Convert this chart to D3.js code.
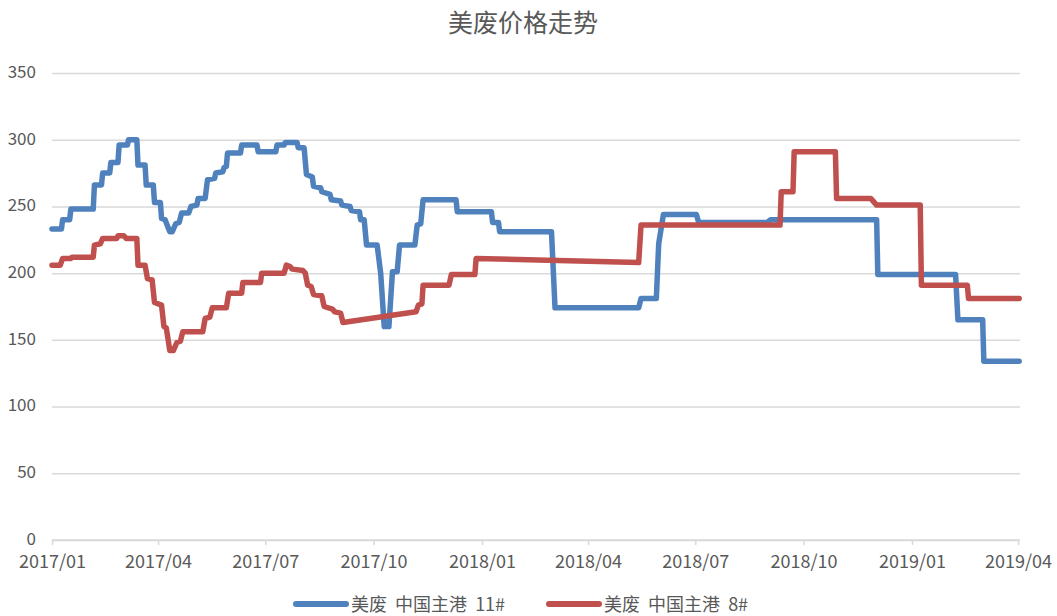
<!DOCTYPE html>
<html>
<head>
<meta charset="utf-8">
<script src="https://cdn.jsdelivr.net/npm/d3@7/dist/d3.min.js"></script>
<style>
    body { margin: 0; background: #fff; }
    text { font-family: "Liberation Sans Narrow", "Noto Sans CJK SC", sans-serif; }
</style>
</head>
<body>
<div id="chart"></div>
<script>
//标题和系列名称
let title = '美废价格走势';
let seriesNames = ['美废  中国主港  11#', '美废  中国主港  8#'];
let seriesColors = ['#4f81bd', '#c0504d'];

//11# 系列（日期, 价格）
let blueDates = ['2017-01-01', '2017-01-09', '2017-01-10', '2017-01-16', '2017-01-17', '2017-02-05', '2017-02-06',
    '2017-02-12', '2017-02-13', '2017-02-19', '2017-02-20', '2017-02-26', '2017-02-27', '2017-03-06', '2017-03-07',
    '2017-03-14', '2017-03-15', '2017-03-21', '2017-03-22', '2017-03-28', '2017-03-29', '2017-04-03', '2017-04-04',
    '2017-04-07', '2017-04-11', '2017-04-13', '2017-04-16', '2017-04-19', '2017-04-21', '2017-04-27', '2017-04-29',
    '2017-05-04', '2017-05-05', '2017-05-11', '2017-05-13', '2017-05-19', '2017-05-20', '2017-05-26', '2017-05-27',
    '2017-05-29', '2017-05-30', '2017-06-10', '2017-06-11', '2017-06-24', '2017-06-25', '2017-07-10', '2017-07-11',
    '2017-07-17', '2017-07-18', '2017-07-28', '2017-07-29', '2017-08-03', '2017-08-05', '2017-08-10', '2017-08-11',
    '2017-08-17', '2017-08-18', '2017-08-25', '2017-08-26', '2017-09-03', '2017-09-04', '2017-09-11', '2017-09-12',
    '2017-09-19', '2017-09-20', '2017-09-23', '2017-09-25', '2017-10-04', '2017-10-07', '2017-10-10', '2017-10-14',
    '2017-10-17', '2017-10-21', '2017-10-23', '2017-11-05', '2017-11-07', '2017-11-10', '2017-11-12', '2017-12-10',
    '2017-12-11', '2018-01-09', '2018-01-10', '2018-01-15', '2018-01-16', '2018-03-01', '2018-03-04', '2018-05-14',
    '2018-05-16', '2018-05-29', '2018-05-31', '2018-06-04', '2018-07-02', '2018-07-04', '2018-08-31', '2018-09-03',
    '2018-12-02', '2018-12-03', '2019-02-07', '2019-02-09', '2019-03-02', '2019-03-03', '2019-04-02'];
let blueValues = [233, 233, 240, 240, 248, 248, 266,
    266, 275, 275, 283, 283, 296, 296, 300,
    300, 281, 281, 266, 266, 253, 253, 241,
    240, 231, 231, 237, 238, 245, 245, 250,
    251, 256, 256, 270, 271, 275, 276, 279,
    280, 290, 290, 296, 296, 291, 291, 296,
    296, 298, 298, 294, 294, 274, 272, 265,
    264, 261, 259, 255, 254, 251, 250, 247,
    246, 240, 240, 221, 221, 200, 160, 160,
    201, 201, 221, 221, 236, 237, 255, 255,
    246, 246, 238, 238, 231, 231, 174, 174,
    181, 181, 222, 244, 244, 238, 238, 240,
    240, 199, 199, 165, 165, 134, 134];

//8# 系列（日期, 价格）
let redDates = ['2017-01-01', '2017-01-08', '2017-01-10', '2017-01-17', '2017-01-18', '2017-02-05', '2017-02-06',
    '2017-02-11', '2017-02-13', '2017-02-25', '2017-02-26', '2017-03-03', '2017-03-05', '2017-03-14', '2017-03-15',
    '2017-03-21', '2017-03-23', '2017-03-27', '2017-03-29', '2017-04-04', '2017-04-06', '2017-04-08', '2017-04-11',
    '2017-04-14', '2017-04-17', '2017-04-20', '2017-04-22', '2017-05-09', '2017-05-11', '2017-05-15', '2017-05-17',
    '2017-05-29', '2017-05-31', '2017-06-11', '2017-06-12', '2017-06-27', '2017-06-28', '2017-07-17', '2017-07-19',
    '2017-07-22', '2017-07-24', '2017-08-02', '2017-08-04', '2017-08-06', '2017-08-09', '2017-08-11', '2017-08-18',
    '2017-08-20', '2017-08-27', '2017-08-29', '2017-09-03', '2017-09-05', '2017-11-06', '2017-11-08', '2017-11-11',
    '2017-11-12', '2017-12-04', '2017-12-06', '2017-12-26', '2017-12-27', '2018-05-14', '2018-05-16', '2018-09-11',
    '2018-09-12', '2018-09-22', '2018-09-23', '2018-10-28', '2018-10-29', '2018-11-27', '2018-12-02', '2019-01-08',
    '2019-01-09', '2019-02-17', '2019-02-18', '2019-04-02'];
let redValues = [206, 206, 211, 211, 212, 212, 221,
    222, 226, 226, 228, 228, 226, 226, 206,
    206, 196, 195, 178, 176, 160, 159, 142,
    142, 148, 149, 156, 156, 166, 167, 174,
    174, 185, 185, 193, 193, 200, 200, 206,
    205, 203, 202, 200, 191, 190, 184, 183,
    175, 173, 171, 170, 163, 171, 176, 177,
    191, 191, 199, 199, 211, 208, 236, 236,
    261, 261, 291, 291, 256, 256, 251, 251,
    191, 191, 181, 181];

//坐标轴刻度
let xTickLabels = ['2017/01', '2017/04', '2017/07', '2017/10', '2018/01', '2018/04', '2018/07', '2018/10', '2019/01', '2019/04'];
let yTickValues = [0, 50, 100, 150, 200, 250, 300, 350];

let width = 1057, height = 616;
let parseDay = d3.timeParse('%Y-%m-%d');
let parseMonth = d3.timeParse('%Y/%m');

let svg = d3.select('#chart').append('svg')
    .attr('width', width)
    .attr('height', height);

//比例尺：时间轴 + 线性轴
let xScale = d3.scaleTime()
    .domain([parseMonth(xTickLabels[0]), parseMonth(xTickLabels[xTickLabels.length - 1])])
    .range([52, 1018]);
let yScale = d3.scaleLinear()
    .domain([0, 350])
    .range([540, 73]);

//标题
svg.append('text')
    .attr('x', 523)
    .attr('y', 32)
    .attr('text-anchor', 'middle')
    .attr('font-size', 25)
    .attr('fill', '#595959')
    .style('font-family', '"Noto Sans CJK SC", sans-serif')
    .text(title);

//网格线 + y轴
let yAxis = d3.axisLeft(yScale)
    .tickValues(yTickValues)
    .tickSize(-(1020 - 52))
    .tickPadding(16);
let yG = svg.append('g')
    .attr('transform', 'translate(52,0)')
    .call(yAxis);
yG.select('.domain').remove();
yG.selectAll('.tick line').attr('stroke', '#d9d9d9').attr('stroke-width', 1.5);
yG.selectAll('.tick text')
    .attr('fill', '#595959')
    .attr('font-size', 17)
    .attr('dy', '0.26em');

//x轴
let xAxis = d3.axisBottom(xScale)
    .tickValues(xTickLabels.map(parseMonth))
    .tickFormat(d3.timeFormat('%Y/%m'))
    .tickSize(5)
    .tickSizeOuter(0)
    .tickPadding(14);
let xG = svg.append('g')
    .attr('transform', 'translate(0,540)')
    .call(xAxis);
xG.select('.domain').attr('stroke', '#d9d9d9').attr('stroke-width', 1.5)
    .attr('d', 'M52,0H1020');
xG.selectAll('.tick line').attr('stroke', '#d9d9d9').attr('stroke-width', 1.5);
xG.selectAll('.tick text')
    .attr('fill', '#595959')
    .attr('font-size', 18)
    .attr('dy', '0.5em');

//折线
let lineGenerate = d3.line()
    .x(function (d) {
        return xScale(d.date)
    })
    .y(function (d) {
        return yScale(d.value)
    });

let toPoints = function (dates, values) {
    return dates.map(function (s, i) {
        return {date: parseDay(s), value: values[i]}
    })
};
let series = [toPoints(blueDates, blueValues), toPoints(redDates, redValues)];

series.forEach(function (pts, i) {
    svg.append('path')
        .attr('d', lineGenerate(pts))
        .attr('fill', 'none')
        .attr('stroke', seriesColors[i])
        .attr('stroke-width', 5.5)
        .attr('stroke-linejoin', 'round')
        .attr('stroke-linecap', 'round');
});

//图例
let legendX = [296, 549];
let legend = svg.append('g');
seriesNames.forEach(function (name, i) {
    legend.append('line')
        .attr('x1', legendX[i])
        .attr('x2', legendX[i] + 50)
        .attr('y1', 604)
        .attr('y2', 604)
        .attr('stroke', seriesColors[i])
        .attr('stroke-width', 6)
        .attr('stroke-linecap', 'round');
    legend.append('text')
        .attr('x', legendX[i] + 55)
        .attr('y', 611)
        .attr('font-size', 18)
        .attr('fill', '#595959')
        .style('white-space', 'pre')
        .text(name);
});
</script>
</body>
</html>
